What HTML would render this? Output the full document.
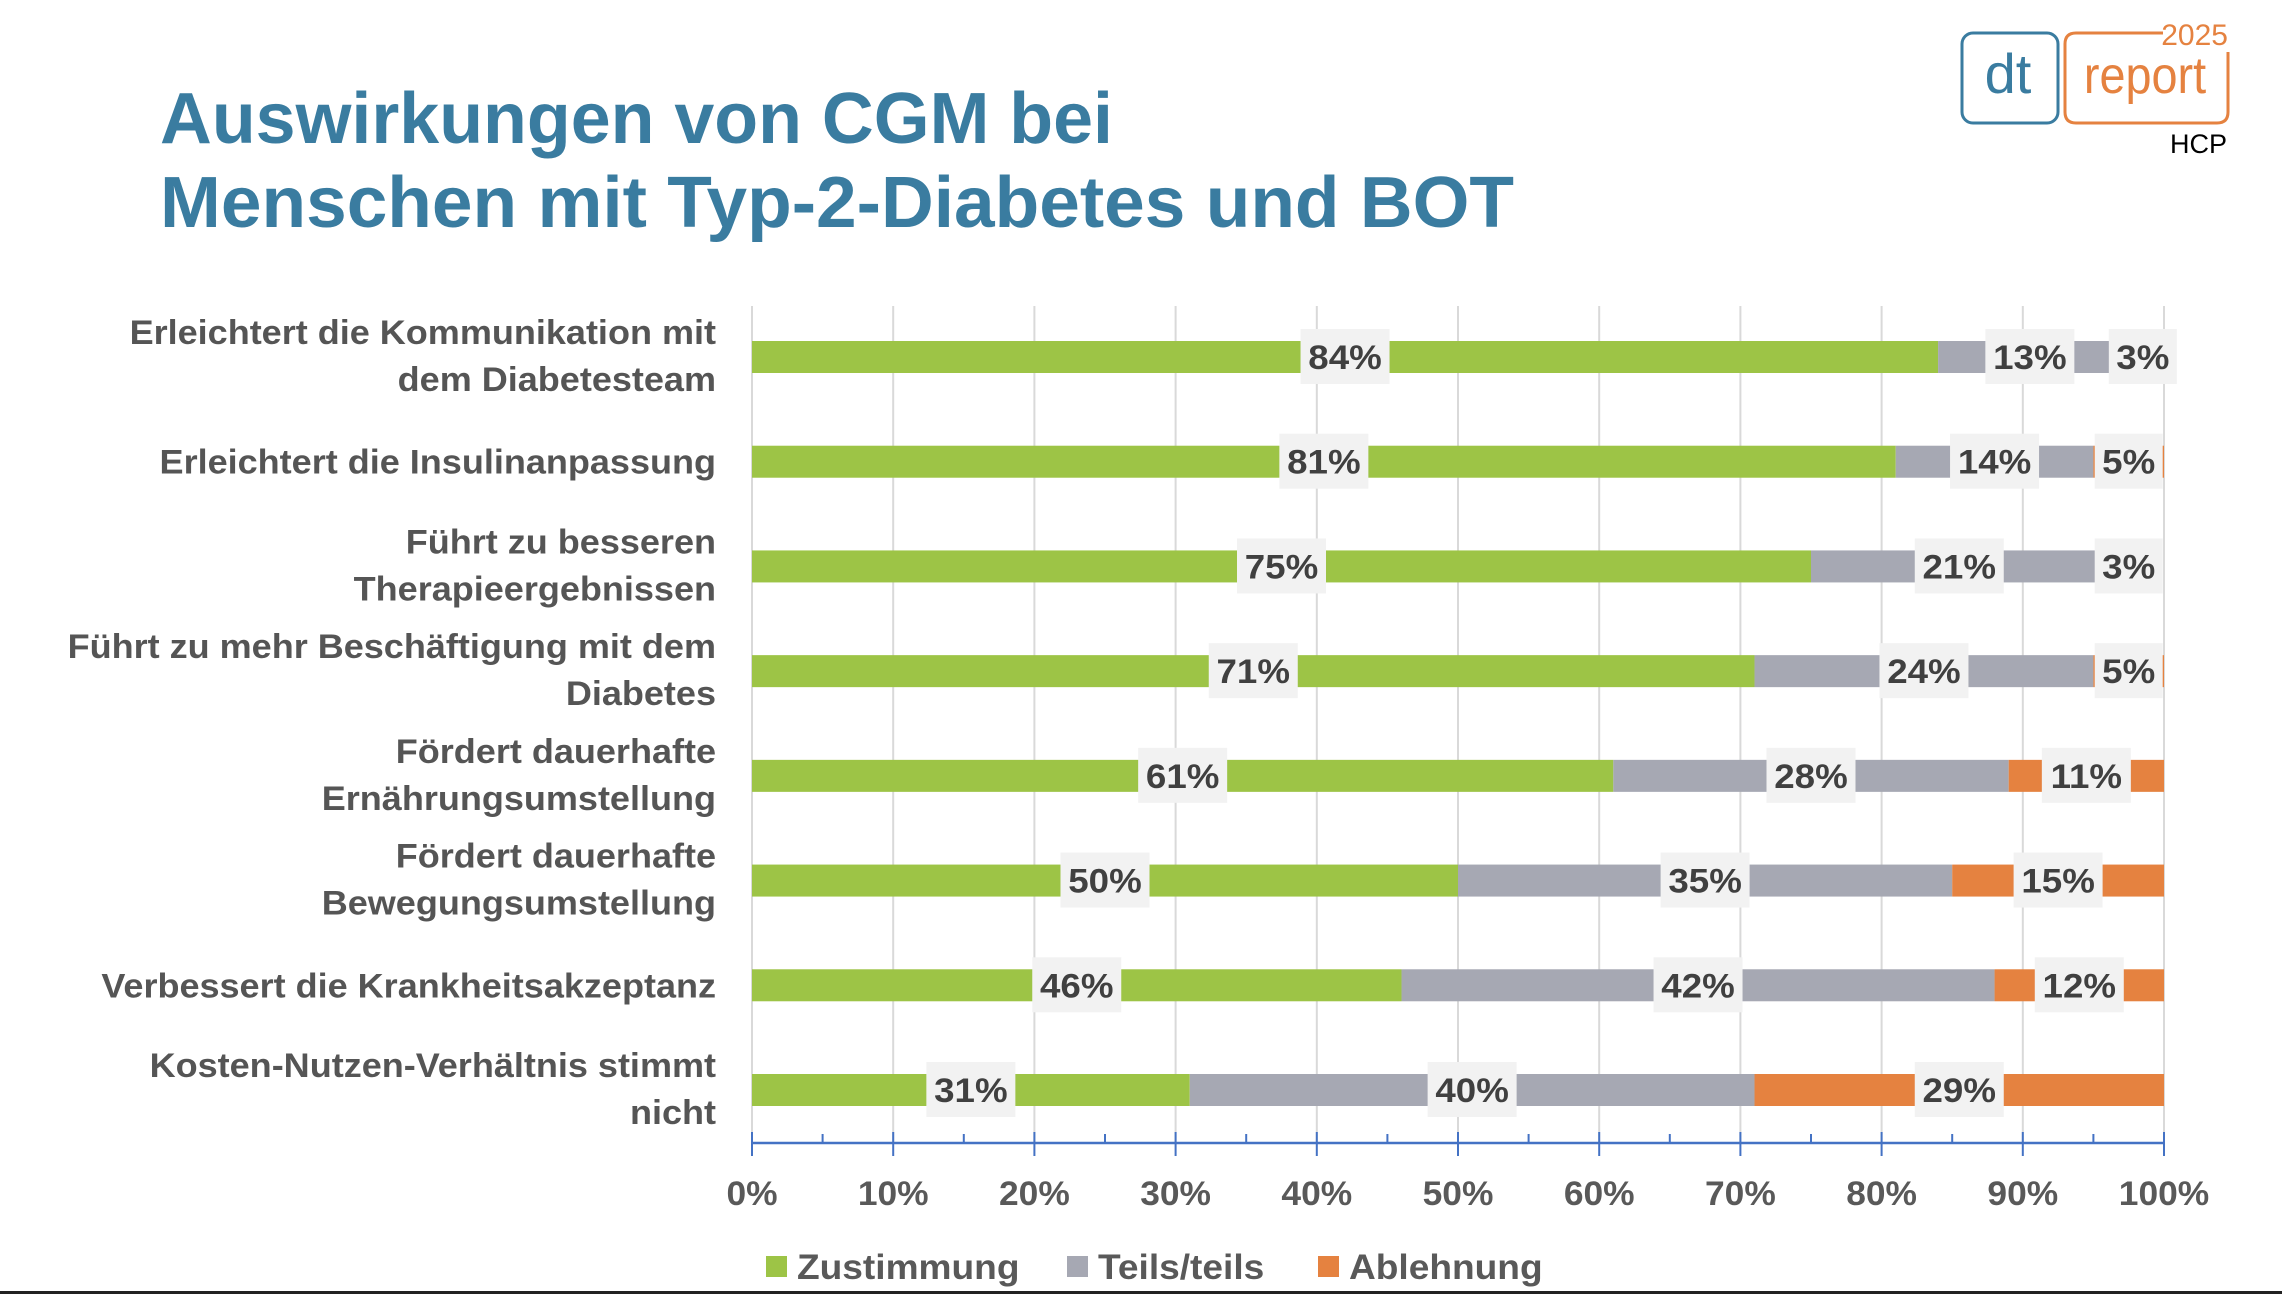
<!DOCTYPE html>
<html><head><meta charset="utf-8"><style>
html,body{margin:0;padding:0;background:#fff;}
svg{display:block;font-family:"Liberation Sans",sans-serif;}
</style></head><body>
<svg id="chart" width="2282" height="1294" viewBox="0 0 2282 1294" xmlns="http://www.w3.org/2000/svg">
<rect x="0" y="0" width="2282" height="1294" fill="#fff"/>
<g fill="#3A7CA0" font-weight="bold" font-size="72">
<text x="160" y="143" textLength="953" lengthAdjust="spacingAndGlyphs">Auswirkungen von CGM bei</text>
<text x="160" y="227" textLength="1354" lengthAdjust="spacingAndGlyphs">Menschen mit Typ-2-Diabetes und BOT</text>
</g>
<g>
<rect x="1962" y="33" width="96" height="90" rx="11" fill="none" stroke="#3A7CA0" stroke-width="3"/>
<text x="2008" y="93" text-anchor="middle" font-size="56" fill="#3A7CA0">dt</text>
<path d="M2163 33 L2076 33 Q2065 33 2065 44 L2065 112 Q2065 123 2076 123 L2217 123 Q2228 123 2228 112 L2228 52" fill="none" stroke="#E58240" stroke-width="3"/>
<text x="2145" y="93" text-anchor="middle" font-size="52" fill="#E58240" transform="translate(2145,0) scale(0.9,1) translate(-2145,0)">report</text>
<text x="2228" y="45" text-anchor="end" font-size="30" fill="#E58240">2025</text>
<text x="2227" y="153" text-anchor="end" font-size="27" fill="#000">HCP</text>
</g>
<g id="grid"></g>
<g id="bars"></g>
<g id="cats"></g>
<g id="axis"></g>
<g id="legend"></g>
<rect x="0" y="1291" width="2282" height="3" fill="#222"/>
</svg>
<script>
const categories = [
  ["Erleichtert die Kommunikation mit","dem Diabetesteam"],
  ["Erleichtert die Insulinanpassung"],
  ["Führt zu besseren","Therapieergebnissen"],
  ["Führt zu mehr Beschäftigung mit dem","Diabetes"],
  ["Fördert dauerhafte","Ernährungsumstellung"],
  ["Fördert dauerhafte","Bewegungsumstellung"],
  ["Verbessert die Krankheitsakzeptanz"],
  ["Kosten-Nutzen-Verhältnis stimmt","nicht"]
];
const zustimmung = [84, 81, 75, 71, 61, 50, 46, 31];
const teilsTeils = [13, 14, 21, 24, 28, 35, 42, 40];
const ablehnung = [3, 5, 3, 5, 11, 15, 12, 29];
const seriesNames = ["Zustimmung", "Teils/teils", "Ablehnung"];
const tickValues = [0,10,20,30,40,50,60,70,80,90,100];

const NS = "http://www.w3.org/2000/svg";
const X0 = 752, X1 = 2164, TOP = 306, AXY = 1143;
const colors = ["#9DC446", "#A6A8B3", "#E58240"];
function xs(v){ return X0 + (X1 - X0) * v / 100; }
function yc(i){ return 357 + i * (1090 - 357) / (categories.length - 1); }
function mk(tag, attrs, parent){
  const e = document.createElementNS(NS, tag);
  for (const k in attrs) e.setAttribute(k, attrs[k]);
  parent.appendChild(e);
  return e;
}
const grid = document.getElementById("grid");
const bars = document.getElementById("bars");
const cats = document.getElementById("cats");
const axis = document.getElementById("axis");
const legend = document.getElementById("legend");

tickValues.forEach(t => {
  const l = mk("line", {x1: xs(t), x2: xs(t), y1: TOP, y2: AXY, stroke: "#d9d9d9", "stroke-width": 2}, grid);
  
  
});

const series = [zustimmung, teilsTeils, ablehnung];
const labels = [];
categories.forEach((c, i) => {
  let acc = 0;
  const cy = yc(i);
  series.forEach((s, k) => {
    const v = s[i];
    const r = mk("rect", {x: xs(acc), y: cy - 16, width: xs(acc + v) - xs(acc), height: 32, fill: colors[k]}, bars);
    
    
    labels.push({cx: xs(acc + v / 2), cy: cy, txt: v + "%"});
    acc += v;
  });
  c.forEach((ln, j) => {
    const y = c.length === 1 ? cy + 12 : cy - 13 + j * 47;
    const t = mk("text", {x: 0, y: y, "text-anchor": "end", "font-size": 34, "font-weight": "bold", fill: "#555", transform: "translate(716,0) scale(1.06,1)"}, cats);
    t.textContent = ln;
    
    
  });
});
labels.forEach(o => {
  const w = o.txt.length === 3 ? 89 : 68;
  const b = mk("rect", {x: o.cx - w / 2, y: o.cy - 28, width: w, height: 55, fill: "#f2f2f2"}, bars);
  
  
  const t = mk("text", {x: 0, y: o.cy + 12, "text-anchor": "middle", "font-size": 34, "font-weight": "bold", fill: "#404040", transform: "translate(" + o.cx + ",0) scale(1.08,1)"}, bars);
  t.textContent = o.txt;
  
  
});

const al = mk("line", {x1: X0, x2: X1, y1: AXY, y2: AXY, stroke: "#4472C4", "stroke-width": 2.5}, axis);


for (let v = 0; v <= 100; v += 5) {
  const major = v % 10 === 0;
  const tk = mk("line", {x1: xs(v), x2: xs(v), y1: major ? 1132 : 1134, y2: major ? 1156 : AXY, stroke: "#4472C4", "stroke-width": 2}, axis);
  
  
}
tickValues.forEach(t => {
  const tx = mk("text", {x: 0, y: 1205, "text-anchor": "middle", "font-size": 34, "font-weight": "bold", fill: "#595959", transform: "translate(" + xs(t) + ",0) scale(1.04,1)"}, axis);
  tx.textContent = t + "%";
  
  
});

const legX = [766, 1067, 1318];
seriesNames.forEach((n, k) => {
  const s = mk("rect", {x: legX[k], y: 1256, width: 21, height: 21, fill: colors[k]}, legend);
  
  
  const t = mk("text", {x: 0, y: 1279, "font-size": 35, "font-weight": "bold", fill: "#595959", transform: "translate(" + (legX[k] + 31) + ",0) scale(1.06,1)"}, legend);
  t.textContent = n;
  
  
});
</script>
</body></html>
